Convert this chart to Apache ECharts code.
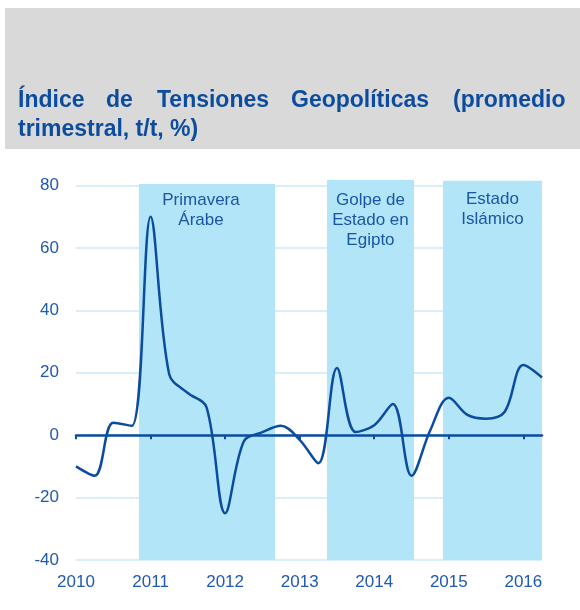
<!DOCTYPE html>
<html>
	<head>
		<meta charset="UTF-8">
		<title>Índice de Tensiones Geopolíticas</title>
		<script src="https://cdn.jsdelivr.net/npm/echarts@6/dist/echarts.min.js"></script>
	</head>
	<body style="margin:0;background:#fff;">
		<div id="chart" style="width:580px;height:610px;"></div>
		<script>
			// trimestres (año decimal) y valores del índice
			var quarters = [2010, 2010.25, 2010.5, 2010.75, 2011, 2011.25, 2011.5, 2011.75,
				2012, 2012.25, 2012.5, 2012.75, 2013, 2013.25, 2013.5, 2013.75,
				2014, 2014.25, 2014.5, 2014.75, 2015, 2015.25, 2015.5, 2015.75,
				2016, 2016.25];
			var values = [-10, -13, 4, 3, 70, 19.5, 13.5, 9,
				-25, -2, 1, 3, -1.5, -9, 21.5, 1,
				3.2, 10, -13, 1.5, 12, 6.5, 5.3, 7.5,
				22.5, 18.5];
			var yearTicks = [2010, 2011, 2012, 2013, 2014, 2015, 2016];

			// periodos sombreados
			var bandNames = ['Primavera\nÁrabe', 'Golpe de\nEstado en\nEgipto', 'Estado\nIslámico'];
			var bandStart = [2010.845, 2013.366, 2014.922];
			var bandEnd = [2012.669, 2014.533, 2016.263];
			var bandTop = [80.5, 81.8, 81.5];

			var titleWords = ['Índice', 'de', 'Tensiones', 'Geopolíticas', '(promedio'];
			var titleWordX = [18, 106, 157, 291, 453];

			var blue = '#0b4c9f';
			var labelBlue = '#1f59b0';
			var font = '"Liberation Sans", Arial, sans-serif';

			var lineData = [];
			for (var i = 0; i < quarters.length; i++) {
				lineData.push([quarters[i], values[i]]);
			}

			var labelDist = [6, 10, 8];
			var areas = [];
			for (var j = 0; j < bandNames.length; j++) {
				areas.push([{
					name: bandNames[j],
					xAxis: bandStart[j],
					yAxis: bandTop[j],
					label: { offset: j === 0 ? [-6, 0] : [0, 0], distance: labelDist[j] }
				}, {
					xAxis: bandEnd[j],
					yAxis: -40
				}]);
			}

			var graphics = [{
				type: 'rect',
				shape: { x: 5, y: 8, width: 575, height: 141 },
				style: { fill: '#d9d9d9' },
				z: -1
			}];
			for (var k = 0; k < titleWords.length; k++) {
				graphics.push({
					type: 'text',
					left: titleWordX[k],
					top: 89,
					style: { text: titleWords[k], fill: blue, font: 'bold 23px ' + font }
				});
			}
			graphics.push({
				type: 'text',
				left: 18,
				top: 118,
				style: { text: 'trimestral, t/t, %)', fill: blue, font: 'bold 23px ' + font }
			});

			var option = {
				animation: false,
				textStyle: { fontFamily: font },
				graphic: graphics,
				// el 80 queda en y=185.5; el tope del eje (82) deja sitio a las bandas
				grid: { left: 76, right: 38, top: 179.3, bottom: 50 },
				xAxis: [{
					type: 'value',
					min: 2010,
					max: 2016.25,
					interval: 1,
					position: 'bottom',
					axisLine: { show: false, onZero: false },
					axisTick: { show: false },
					splitLine: { show: false },
					axisLabel: {
						color: labelBlue,
						fontSize: 17,
						margin: 14,
						customValues: yearTicks,
						formatter: function (v) { return String(v); }
					}
				}, {
					type: 'value',
					min: 2010,
					max: 2016.25,
					interval: 1,
					position: 'bottom',
					axisLine: { show: true, onZero: true, lineStyle: { color: blue, width: 2.5 } },
					axisTick: { show: true, length: 4, customValues: yearTicks, lineStyle: { color: blue, width: 2 } },
					splitLine: { show: false },
					axisLabel: { show: false }
				}],
				yAxis: {
					type: 'value',
					min: -40,
					max: 82,
					interval: 20,
					axisLine: { show: false },
					axisTick: { show: false },
					splitLine: { showMaxLine: false, lineStyle: { color: '#cbe9f8', width: 1.5 } },
					axisLabel: { color: labelBlue, fontSize: 17, margin: 17, showMaxLabel: false }
				},
				series: [{
					type: 'line',
					data: lineData,
					smooth: 0.35,
					symbol: 'none',
					z: 3,
					lineStyle: { color: blue, width: 2.5 },
					markArea: {
						silent: true,
						z: 0,
						itemStyle: { color: '#b3e5f8' },
						label: {
							show: true,
							position: 'insideTop',
							color: '#1a55a8',
							fontSize: 17,
							lineHeight: 20,
							align: 'center'
						},
						data: areas
					}
				}, {
					// serie vacía que liga el segundo eje x (línea del cero)
					type: 'line',
					xAxisIndex: 1,
					data: []
				}]
			};

			var myChart = echarts.init(document.getElementById('chart'));
			myChart.setOption(option);
		</script>
	</body>
</html>
